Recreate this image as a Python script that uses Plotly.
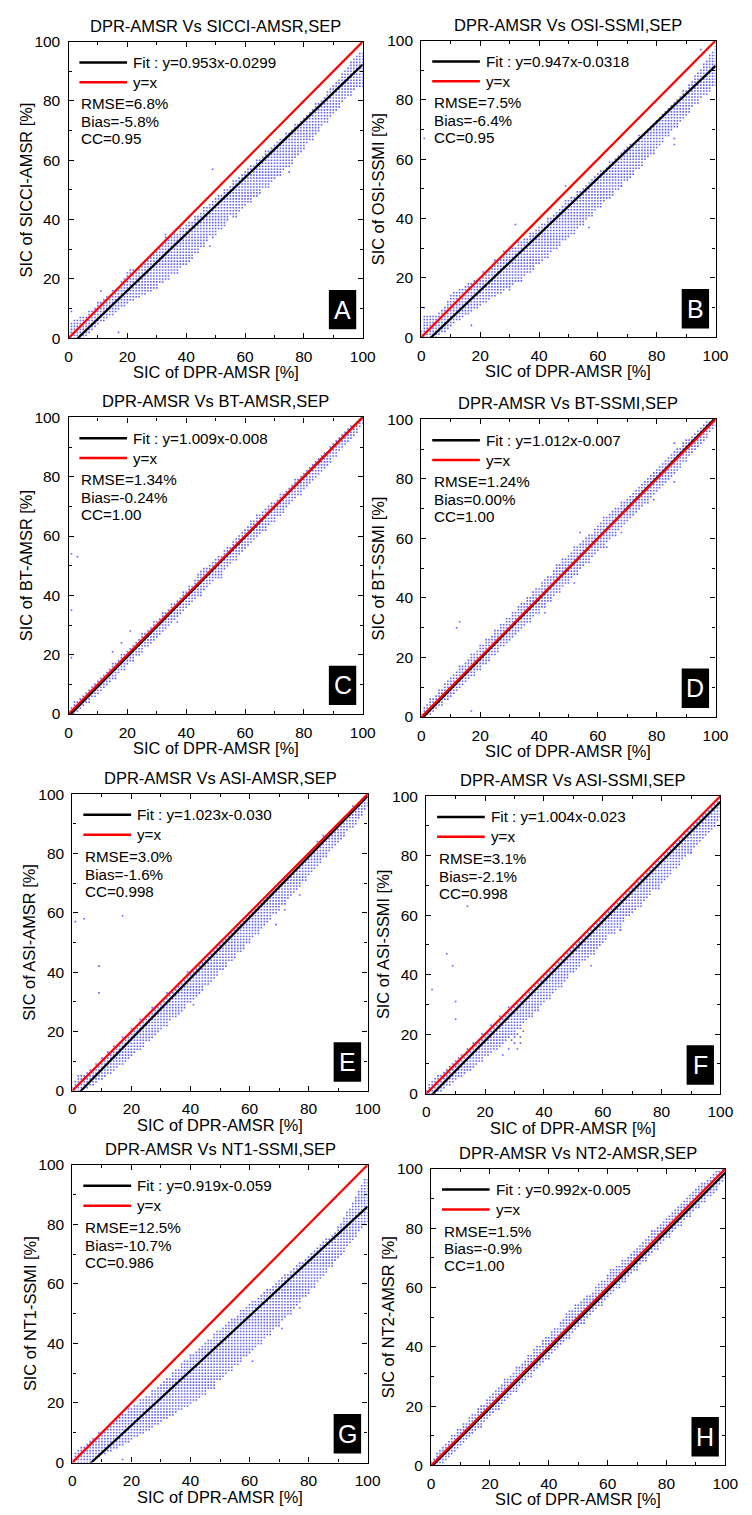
import plotly.graph_objects as go

# ---------------------------------------------------------------------------
# Data: September SIC comparisons, DPR-AMSR (x) against eight other products.
# For every integer DPR-AMSR column (0..100 %) the cloud of collocated pixels
# is described by how far its highest / lowest value lies from the 1:1 line.
# Isolated pixels away from the main cloud are listed separately.
# ---------------------------------------------------------------------------

sic_columns = list(range(0, 101))

# ---- A: SICCI-AMSR -------------------------------------------------------
sicci_upper_dev = [2, 4, 4, 3, 3, 2, 1, 2, 1, 1, 2,
                   1, 1, 1, 0, 1, 0, 0, 1, 1, 2,
                   2, 1, 0, 0, 0, 0, -1, 0, -1, -1,
                   -1, 0, 2, 0, -1, -1, -2, -1, -2, -2,
                   -2, -3, -2, -3, -3, -2, -3, -3, -3, -3,
                   -3, -4, -3, -4, -4, -3, -4, -4, -4, -4,
                   -4, -4, -5, -4, -5, -5, -4, -5, -5, -5,
                   -5, -5, -6, -5, -6, -6, -5, -6, -6, -6,
                   -6, -6, -6, -5, -6, -6, -6, -5, -5, -5,
                   -5, -5, -4, -4, -4, -3, -3, -3, -3, -4]
sicci_lower_dev = [0, -1, -2, -3, -4, -5, -5, -5, -5, -5, -5,
                   -5, -6, -6, -6, -7, -7, -7, -7, -8, -8,
                   -8, -9, -9, -10, -10, -11, -11, -12, -12, -13,
                   -12, -13, -13, -14, -13, -14, -15, -14, -14, -15,
                   -15, -15, -14, -15, -14, -15, -14, -13, -15, -15,
                   -14, -15, -15, -14, -13, -15, -16, -15, -15, -15,
                   -15, -16, -15, -16, -16, -15, -16, -17, -16, -16,
                   -16, -17, -16, -16, -17, -17, -16, -16, -16, -16,
                   -15, -15, -16, -15, -15, -14, -14, -15, -14, -14,
                   -14, -14, -13, -13, -13, -14, -13, -13, -14, -15]
sicci_iso_x = [0, 1, 11, 17, 49, 48, 75]
sicci_iso_y = [67, 9, 16, 2, 57, 31, 56]

# ---- B: OSI-SSMI ---------------------------------------------------------
osi_upper_dev = [2, 6, 5, 4, 3, 2, 2, 2, 2, 3, 4,
                 4, 3, 3, 2, 2, 2, 1, 1, 0, 0,
                 1, 0, 0, 0, 1, 0, 0, 1, 0, -1,
                 -1, -2, -1, -2, -2, -3, -2, -3, -3, -3,
                 -3, -4, -3, -4, -4, -4, -4, -4, -3, -4,
                 -4, -5, -4, -5, -5, -5, -5, -5, -5, -5,
                 -5, -6, -6, -5, -6, -6, -6, -6, -6, -6,
                 -6, -7, -7, -6, -7, -7, -7, -7, -7, -7,
                 -7, -7, -7, -7, -7, -7, -7, -7, -6, -7,
                 -6, -6, -5, -5, -5, -4, -4, -3, -3, -2]
osi_lower_dev = [0, -1, -2, -3, -4, -5, -5, -5, -6, -6, -6,
                 -6, -6, -7, -7, -7, -8, -8, -8, -9, -9,
                 -9, -10, -10, -10, -11, -11, -12, -12, -12, -13,
                 -13, -13, -14, -14, -14, -14, -15, -15, -14, -15,
                 -15, -15, -16, -15, -15, -16, -16, -15, -16, -16,
                 -16, -17, -16, -16, -17, -16, -16, -17, -16, -16,
                 -17, -16, -16, -17, -17, -16, -17, -17, -16, -17,
                 -17, -17, -16, -17, -17, -16, -16, -16, -17, -16,
                 -16, -16, -15, -16, -15, -15, -16, -15, -15, -15,
                 -15, -14, -14, -15, -14, -14, -15, -15, -14, -15]
osi_iso_x = [1, 1, 17, 32, 49, 30, 34, 57, 68, 86, 86, 95]
osi_iso_y = [67, 10, 4, 38, 51, 16, 19, 37, 51, 65, 67, 97]

# ---- C: BT-AMSR ----------------------------------------------------------
bta_upper_dev = [1, 1, 2, 1, 1, 1, 1, 1, 1, 1, 1,
                 1, 1, 1, 1, 2, 1, 1, 2, 1, 1,
                 1, 1, 1, 1, 2, 1, 1, 1, 2, 1,
                 1, 2, 1, 1, 2, 1, 1, 1, 2, 1,
                 2, 1, 2, 3, 3, 3, 2, 2, 2, 2,
                 2, 1, 2, 2, 1, 2, 2, 2, 2, 2,
                 2, 3, 2, 3, 2, 2, 2, 2, 2, 1,
                 1, 2, 1, 1, 1, 1, 2, 1, 1, 1,
                 1, 1, 1, 1, 1, 1, 1, 0, 1, 1,
                 1, 1, 1, 1, 1, 1, 0, 0, 0, 0]
bta_lower_dev = [0, -1, -2, -2, -2, -2, -2, -3, -2, -3, -3,
                 -3, -3, -3, -3, -3, -4, -3, -3, -4, -3,
                 -3, -4, -3, -4, -4, -3, -4, -4, -4, -4,
                 -4, -4, -4, -4, -4, -4, -4, -4, -4, -4,
                 -4, -4, -4, -4, -5, -4, -4, -4, -4, -4,
                 -5, -5, -4, -4, -4, -4, -5, -4, -4, -4,
                 -4, -4, -4, -4, -4, -4, -5, -4, -4, -5,
                 -4, -4, -5, -4, -4, -4, -4, -4, -5, -4,
                 -4, -4, -4, -4, -4, -4, -4, -4, -4, -3,
                 -4, -3, -3, -3, -3, -3, -3, -3, -2, -2]
bta_iso_x = [1, 1, 3, 1, 15, 18, 21, 37, 72, 52]
bta_iso_y = [35, 54, 53, 19, 21, 24, 28, 31, 67, 46]

# ---- D: BT-SSMI ----------------------------------------------------------
bts_upper_dev = [1, 2, 2, 3, 2, 2, 3, 2, 3, 3, 3,
                 3, 3, 4, 3, 3, 3, 4, 3, 3, 4,
                 3, 4, 3, 3, 4, 3, 4, 3, 4, 3,
                 4, 3, 4, 4, 3, 4, 3, 4, 4, 3,
                 4, 4, 4, 3, 4, 5, 4, 5, 4, 4,
                 4, 5, 4, 4, 4, 4, 4, 3, 4, 4,
                 4, 5, 4, 4, 4, 4, 3, 4, 3, 3,
                 3, 3, 3, 3, 3, 3, 3, 3, 3, 3,
                 3, 3, 3, 3, 3, 3, 3, 2, 3, 3,
                 2, 2, 2, 2, 2, 2, 2, 1, 1, 0]
bts_lower_dev = [0, -1, -1, -2, -2, -2, -2, -3, -2, -3, -3,
                 -3, -3, -3, -3, -3, -3, -3, -4, -3, -4,
                 -3, -4, -4, -3, -4, -4, -3, -4, -4, -4,
                 -4, -4, -4, -4, -4, -4, -5, -4, -4, -5,
                 -4, -5, -4, -5, -4, -4, -5, -4, -4, -5,
                 -4, -4, -5, -4, -4, -4, -5, -4, -4, -4,
                 -4, -5, -4, -4, -4, -5, -4, -4, -4, -4,
                 -4, -4, -4, -4, -4, -4, -5, -4, -4, -4,
                 -4, -4, -4, -4, -4, -4, -4, -4, -3, -4,
                 -3, -3, -3, -3, -3, -3, -3, -2, -2, -2]
bts_iso_x = [54, 12, 13, 17, 42, 52, 63, 68, 79, 86, 86]
bts_iso_y = [62, 30, 32, 2, 35, 45, 57, 62, 73, 79, 92]

# ---- E: ASI-AMSR ---------------------------------------------------------
asia_upper_dev = [1, 2, 3, 2, 1, 1, 1, 0, 1, 0, 1,
                  0, 1, 0, 1, 0, 0, 1, 0, 0, 1,
                  0, 0, 1, 0, 0, 0, 1, 0, 0, 0,
                  0, 1, 0, 0, 0, 0, 0, 0, 1, 0,
                  0, 0, 0, 0, 0, 0, 0, 0, 0, 0,
                  0, 0, 0, 0, -1, 0, 0, 0, 0, 0,
                  0, 0, 0, 0, 0, 0, 0, 0, 0, 0,
                  0, 0, 0, 0, 0, 0, 0, 0, 0, 0,
                  0, 0, 1, 0, 1, 0, 0, 0, 0, 0,
                  0, 0, 0, 0, 1, 0, 0, 0, 0, 0]
asia_lower_dev = [0, -1, -2, -3, -3, -4, -4, -5, -5, -5, -6,
                  -6, -6, -7, -7, -7, -7, -8, -8, -8, -8,
                  -8, -8, -9, -9, -8, -9, -9, -9, -9, -9,
                  -9, -10, -9, -9, -10, -10, -10, -10, -9, -10,
                  -10, -10, -10, -10, -9, -10, -10, -10, -10, -9,
                  -10, -10, -9, -10, -10, -9, -10, -10, -9, -10,
                  -9, -9, -10, -9, -9, -9, -9, -8, -9, -9,
                  -8, -9, -8, -8, -8, -8, -8, -7, -8, -7,
                  -7, -7, -7, -7, -6, -7, -6, -6, -6, -6,
                  -6, -6, -5, -5, -6, -5, -5, -5, -4, -4]
asia_iso_x = [1, 4, 17, 9, 9, 41, 69, 72, 77, 96]
asia_iso_y = [57, 58, 59, 42, 33, 29, 56, 61, 66, 90]

# ---- F: ASI-SSMI ---------------------------------------------------------
asis_upper_dev = [1, 2, 2, 2, 2, 1, 1, 1, 1, 1, 1,
                  1, 1, 0, 1, 0, 1, 0, 0, 1, 0,
                  0, 1, 0, 0, 1, 0, 0, 1, 0, 0,
                  0, 0, 0, -1, 0, 0, -1, 0, 0, -1,
                  0, -1, -1, 0, -1, -1, 0, -1, -1, -1,
                  -1, 0, -1, -1, -1, 0, -1, -1, -1, -1,
                  -1, -1, 0, -1, -1, -1, -1, 0, -1, -1,
                  -1, -1, -1, -1, 0, -1, -1, -1, -1, -1,
                  -1, 0, -1, -1, -1, -1, -1, 0, -1, -1,
                  -1, -1, -1, 0, -1, -1, -1, -1, 0, 0]
asis_lower_dev = [0, -1, -2, -3, -3, -4, -4, -4, -5, -5, -5,
                  -5, -6, -6, -6, -7, -7, -7, -7, -8, -7,
                  -8, -8, -8, -9, -9, -9, -9, -9, -9, -10,
                  -9, -10, -9, -9, -9, -10, -9, -10, -9, -9,
                  -9, -10, -9, -9, -9, -10, -9, -9, -8, -9,
                  -9, -9, -8, -9, -9, -9, -10, -9, -9, -9,
                  -9, -8, -9, -10, -9, -11, -9, -8, -9, -9,
                  -9, -9, -10, -9, -9, -9, -8, -9, -10, -9,
                  -9, -9, -9, -8, -9, -9, -8, -8, -8, -9,
                  -8, -8, -8, -8, -8, -8, -8, -7, -7, -7]
asis_iso_x = [2, 7, 9, 10, 10, 14, 26, 28, 29, 30, 30, 31, 31, 32, 32, 33,
              56, 66, 90, 98]
asis_iso_y = [35, 47, 43, 31, 25, 63, 13, 15, 18, 17, 19, 15, 20, 17, 19, 21,
              43, 55, 81, 90]

# ---- G: NT1-SSMI ---------------------------------------------------------
nt1_upper_dev = [1, 2, 2, 2, 1, 1, 1, 1, 0, 1, 0,
                 0, 0, -1, 0, -1, -1, -1, -2, -1, -2,
                 -2, -3, -2, -3, -3, -4, -3, -4, -4, -4,
                 -4, -4, -5, -4, -4, -5, -4, -4, -5, -4,
                 -5, -5, -5, -5, -5, -5, -6, -5, -5, -6,
                 -6, -6, -6, -6, -7, -7, -6, -7, -7, -7,
                 -7, -8, -8, -8, -8, -8, -9, -9, -9, -9,
                 -9, -9, -10, -10, -10, -10, -10, -11, -11, -11,
                 -11, -11, -11, -11, -11, -11, -12, -12, -12, -11,
                 -11, -10, -9, -9, -8, -7, -6, -5, -4, -5]
nt1_lower_dev = [0, -1, -2, -3, -4, -5, -6, -6, -6, -7, -7,
                 -8, -8, -9, -9, -10, -10, -11, -11, -12, -12,
                 -12, -13, -13, -14, -14, -15, -15, -15, -16, -16,
                 -16, -17, -17, -18, -18, -18, -19, -19, -20, -20,
                 -20, -21, -21, -21, -22, -21, -22, -22, -21, -22,
                 -22, -22, -22, -23, -22, -23, -23, -22, -23, -23,
                 -23, -23, -23, -24, -23, -23, -24, -23, -23, -24,
                 -23, -23, -23, -24, -23, -23, -23, -22, -23, -23,
                 -22, -23, -22, -22, -22, -22, -21, -22, -21, -21,
                 -21, -21, -20, -20, -20, -20, -19, -19, -19, -19]
nt1_iso_x = [17, 48, 61, 71, 77]
nt1_iso_y = [1, 25, 34, 45, 52]

# ---- H: NT2-AMSR ---------------------------------------------------------
nt2_upper_dev = [1, 1, 2, 2, 2, 2, 2, 3, 2, 3, 2,
                 3, 2, 3, 3, 2, 3, 3, 2, 3, 3,
                 3, 3, 3, 3, 4, 3, 3, 3, 4, 3,
                 3, 3, 4, 3, 4, 4, 3, 4, 4, 3,
                 4, 4, 3, 4, 4, 5, 5, 4, 5, 4,
                 4, 4, 4, 3, 3, 4, 4, 4, 3, 4,
                 5, 4, 4, 3, 4, 3, 3, 3, 3, 3,
                 3, 3, 3, 3, 4, 3, 3, 3, 3, 3,
                 3, 3, 3, 3, 3, 3, 3, 3, 3, 3,
                 3, 3, 2, 2, 2, 2, 2, 1, 1, 0]
nt2_lower_dev = [0, -1, -2, -3, -3, -3, -3, -3, -3, -3, -3,
                 -3, -3, -3, -3, -3, -3, -4, -3, -3, -3,
                 -3, -3, -4, -3, -3, -3, -3, -3, -4, -3,
                 -3, -3, -3, -4, -3, -3, -3, -3, -3, -4,
                 -3, -3, -3, -3, -3, -3, -4, -3, -3, -3,
                 -3, -4, -3, -3, -3, -3, -3, -4, -3, -3,
                 -3, -3, -3, -4, -3, -4, -3, -3, -3, -4,
                 -3, -3, -4, -3, -3, -3, -4, -3, -3, -3,
                 -4, -3, -3, -3, -4, -3, -3, -4, -3, -3,
                 -4, -3, -4, -3, -4, -4, -4, -3, -3, -3]
nt2_iso_x = []
nt2_iso_y = []

# ---- Panel texts and regression statistics --------------------------------
panel_letters = ["A", "B", "C", "D", "E", "F", "G", "H"]
products = ["SICCI-AMSR", "OSI-SSMI", "BT-AMSR", "BT-SSMI",
            "ASI-AMSR", "ASI-SSMI", "NT1-SSMI", "NT2-AMSR"]
fit_slopes = [0.953, 0.947, 1.009, 1.012, 1.023, 1.004, 0.919, 0.992]
fit_intercepts = [-0.0299, -0.0318, -0.008, -0.007, -0.030, -0.023, -0.059, -0.005]
fit_labels = ["0.953x-0.0299", "0.947x-0.0318", "1.009x-0.008", "1.012x-0.007",
              "1.023x-0.030", "1.004x-0.023", "0.919x-0.059", "0.992x-0.005"]
rmse_labels = ["6.8%", "7.5%", "1.34%", "1.24%", "3.0%", "3.1%", "12.5%", "1.5%"]
bias_labels = ["-5.8%", "-6.4%", "-0.24%", "0.00%", "-1.6%", "-2.1%", "-10.7%", "-0.9%"]
cc_labels = ["0.95", "0.95", "1.00", "1.00", "0.998", "0.998", "0.986", "1.00"]
x_axis_title = "SIC of DPR-AMSR [%]"
tick_values = [0, 20, 40, 60, 80, 100]

upper_devs = [sicci_upper_dev, osi_upper_dev, bta_upper_dev, bts_upper_dev,
              asia_upper_dev, asis_upper_dev, nt1_upper_dev, nt2_upper_dev]
lower_devs = [sicci_lower_dev, osi_lower_dev, bta_lower_dev, bts_lower_dev,
              asia_lower_dev, asis_lower_dev, nt1_lower_dev, nt2_lower_dev]
iso_xs = [sicci_iso_x, osi_iso_x, bta_iso_x, bts_iso_x,
          asia_iso_x, asis_iso_x, nt1_iso_x, nt2_iso_x]
iso_ys = [sicci_iso_y, osi_iso_y, bta_iso_y, bts_iso_y,
          asia_iso_y, asis_iso_y, nt1_iso_y, nt2_iso_y]

# ---------------------------------------------------------------------------
# Layout: plot-area boxes in figure pixels (left, top, right, bottom)
# ---------------------------------------------------------------------------
W, H = 752, 1515
boxes = [(66, 33, 367, 333), (427, 32, 728, 332),
         (66, 413, 367, 713), (427, 415, 728, 716),
         (70, 794, 372, 1094), (432, 796, 733, 1097),
         (70, 1169, 372, 1470), (437, 1173, 738, 1473)]

FONT = "Liberation Sans, Arial, sans-serif"
DOT_COLOR = "rgb(95,95,255)"
TITLE_SIZE = 16.5
AXIS_TITLE_SIZE = 16.4
TICK_SIZE = 15.5
TEXT_SIZE = 15.2
BADGE_SIZE = 25


def cloud_points(upper, lower):
    xs, ys = [], []
    for x, up, lo in zip(sic_columns, upper, lower):
        for y in range(max(0, x + lo), min(100, x + up) + 1):
            xs.append(x)
            ys.append(y)
    return xs, ys


fig = go.Figure()
shapes, annotations = [], []

for i in range(8):
    n = "" if i == 0 else str(i + 1)
    xa, ya = "x" + n, "y" + n
    xd, yd = xa + " domain", ya + " domain"

    cx, cy = cloud_points(upper_devs[i], lower_devs[i])
    cx = cx + iso_xs[i]
    cy = cy + iso_ys[i]
    fig.add_trace(go.Scatter(
        x=cx, y=cy, mode="markers", xaxis=xa, yaxis=ya,
        marker=dict(symbol="square", size=1.6, color=DOT_COLOR, line=dict(width=0)),
        hoverinfo="skip", showlegend=False))

    a, b = fit_slopes[i], fit_intercepts[i] * 100
    fig.add_trace(go.Scatter(
        x=[0, 100], y=[b, a * 100 + b], mode="lines", xaxis=xa, yaxis=ya,
        line=dict(color="black", width=2.2), hoverinfo="skip", showlegend=False))
    fig.add_trace(go.Scatter(
        x=[0, 100], y=[0, 100], mode="lines", xaxis=xa, yaxis=ya,
        line=dict(color="red", width=2.2), hoverinfo="skip", showlegend=False))

    l, t, r, bt = boxes[i]
    axis_style = dict(
        range=[0, 100], showgrid=False, zeroline=False, showline=True,
        linecolor="black", linewidth=1.3, mirror="ticks", ticks="inside",
        ticklen=5, tickwidth=1.2, tickcolor="black",
        tickvals=tick_values, ticktext=[str(v) for v in tick_values],
        tickfont=dict(family=FONT, size=TICK_SIZE, color="black"),
        minor=dict(tickvals=[10, 30, 50, 70, 90], ticks="inside", ticklen=3,
                   tickwidth=1.2, tickcolor="black", showgrid=False),
        fixedrange=True)
    fig.layout["xaxis" + n] = dict(axis_style, domain=[l / W, r / W], anchor=ya,
                                   ticklabelstandoff=4)
    fig.layout["yaxis" + n] = dict(axis_style, domain=[1 - bt / H, 1 - t / H], anchor=xa,
                                   ticklabelstandoff=4)

    # titles
    annotations.append(dict(xref=xd, yref=yd, x=0.5, y=1, yshift=16,
                            xanchor="center", yanchor="middle", showarrow=False,
                            text=f"DPR-AMSR Vs {products[i]},SEP",
                            font=dict(family=FONT, size=TITLE_SIZE, color="black")))
    annotations.append(dict(xref=xd, yref=yd, x=0.5, y=0, yshift=-34,
                            xanchor="center", yanchor="middle", showarrow=False,
                            text=x_axis_title,
                            font=dict(family=FONT, size=AXIS_TITLE_SIZE, color="black")))
    annotations.append(dict(xref=xd, yref=yd, x=0, y=0.5, xshift=-43,
                            xanchor="center", yanchor="middle", showarrow=False,
                            textangle=-90, text=f"SIC of {products[i]} [%]",
                            font=dict(family=FONT, size=AXIS_TITLE_SIZE, color="black")))

    # legend keys
    for ly, col in ((0.93, "black"), (0.863, "red")):
        shapes.append(dict(type="line", xref=xd, yref=yd, x0=0.037, x1=0.199,
                           y0=ly, y1=ly, line=dict(color=col, width=2.5)))
    annotations.append(dict(xref=xd, yref=yd, x=0.213, y=0.93, xanchor="left",
                            yanchor="middle", showarrow=False,
                            text=f"Fit : y={fit_labels[i]}",
                            font=dict(family=FONT, size=TEXT_SIZE, color="black")))
    annotations.append(dict(xref=xd, yref=yd, x=0.213, y=0.863, xanchor="left",
                            yanchor="middle", showarrow=False, text="y=x",
                            font=dict(family=FONT, size=TEXT_SIZE, color="black")))
    for sy, txt in ((0.79, f"RMSE={rmse_labels[i]}"),
                    (0.73, f"Bias={bias_labels[i]}"),
                    (0.673, f"CC={cc_labels[i]}")):
        annotations.append(dict(xref=xd, yref=yd, x=0.037, y=sy, xanchor="left",
                                yanchor="middle", showarrow=False, text=txt,
                                font=dict(family=FONT, size=TEXT_SIZE, color="black")))

    # panel letter badge
    shapes.append(dict(type="rect", xref=xd, yref=yd, x0=0.885, x1=0.978,
                       y0=0.03, y1=0.163, fillcolor="black", line=dict(width=0)))
    annotations.append(dict(xref=xd, yref=yd, x=0.9315, y=0.0965,
                            xanchor="center", yanchor="middle", showarrow=False,
                            text=panel_letters[i],
                            font=dict(family=FONT, size=BADGE_SIZE, color="white")))

fig.update_layout(width=W, height=H, margin=dict(l=0, r=0, t=0, b=0),
                  paper_bgcolor="white", plot_bgcolor="white",
                  showlegend=False, shapes=shapes, annotations=annotations)

fig.write_html("out.html")
